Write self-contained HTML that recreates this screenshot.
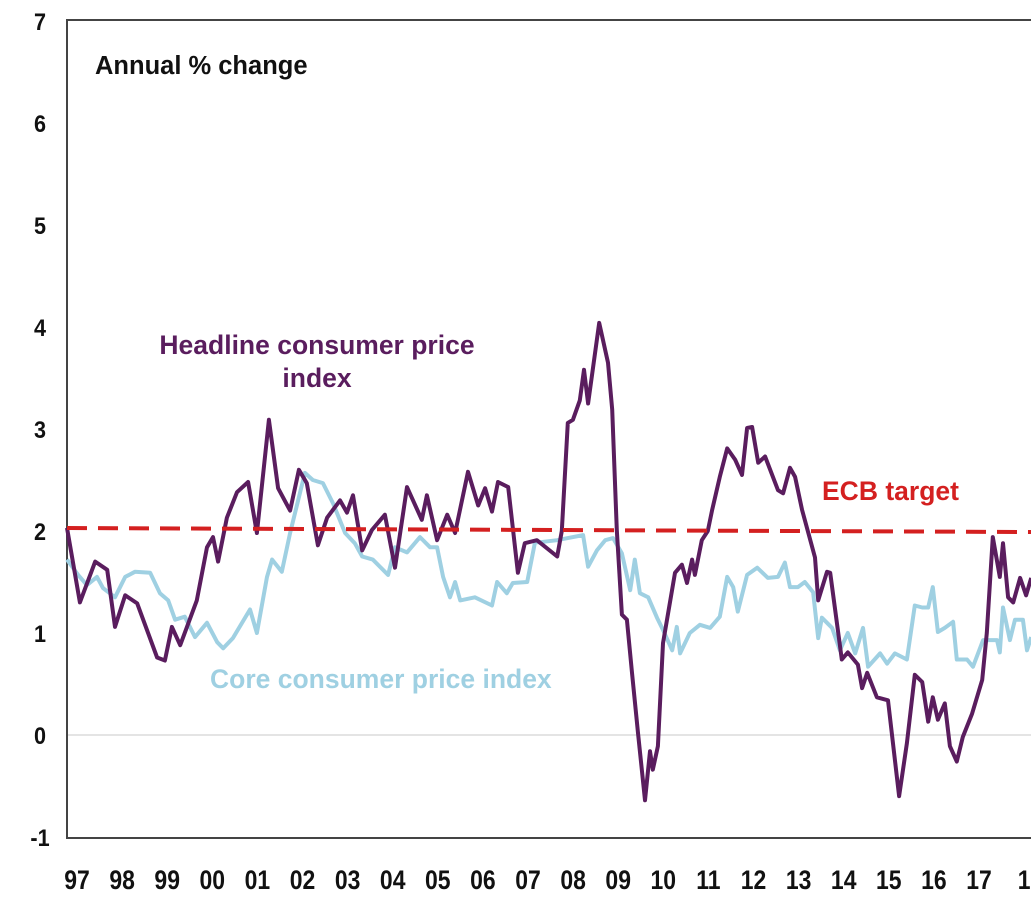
<!DOCTYPE html>
<html><head><meta charset="utf-8">
<style>
body{margin:0;background:#fff;}
svg text{font-family:"Liberation Sans",Arial,sans-serif;font-weight:bold;}
</style></head>
<body>
<svg id="chart" width="1031" height="902" viewBox="0 0 1031 902" xmlns="http://www.w3.org/2000/svg">
<g id="grid"></g>
<g id="axes"></g>
<g id="series"></g>
<text x="95" y="74" font-size="25.5" fill="#111">Annual % change</text>
<text x="317" y="354" font-size="26.5" fill="#5a1d5e" text-anchor="middle">Headline consumer price</text>
<text x="317" y="387" font-size="26.5" fill="#5a1d5e" text-anchor="middle">index</text>
<text x="210" y="688" font-size="26.5" fill="#9fd0e2">Core consumer price index</text>
<text x="822" y="500" font-size="26.5" fill="#d42020">ECB target</text>
</svg>
<script>
const yTicks = [-1,0,1,2,3,4,5,6,7];
const xLabels = ["97","98","99","00","01","02","03","04","05","06","07","08","09","10","11","12","13","14","15","16","17","1"];
const ecbTarget = 2.0;
const headlineT = [0,.28,.61,.87,1.04,1.26,1.52,1.95,2.12,2.27,2.45,2.81,3.03,3.16,3.27,3.46,3.68,3.92,4.11,4.37,4.57,4.83,5.02,5.19,5.43,5.63,5.91,6.06,6.19,6.39,6.60,6.88,7.10,7.36,7.68,7.79,8.01,8.23,8.40,8.68,8.90,9.05,9.20,9.33,9.55,9.76,9.91,10.17,10.61,10.71,10.84,10.95,11.10,11.19,11.28,11.52,11.71,11.80,11.90,12.01,12.12,12.23,12.36,12.51,12.62,12.68,12.79,12.90,13.16,13.31,13.42,13.53,13.59,13.74,13.87,13.96,14.13,14.29,14.46,14.61,14.72,14.83,14.96,15.11,15.39,15.50,15.65,15.76,15.91,16.19,16.26,16.45,16.52,16.77,16.90,17.12,17.21,17.32,17.53,17.77,18.01,18.18,18.35,18.51,18.64,18.74,18.85,19.00,19.11,19.26,19.39,19.59,19.81,19.91,20.04,20.19,20.26,20.37,20.48,20.63,20.76,20.87];
const headlineV = [2.03,1.3,1.7,1.62,1.06,1.37,1.29,0.76,0.73,1.06,0.88,1.32,1.84,1.94,1.70,2.13,2.38,2.48,1.98,3.09,2.42,2.2,2.6,2.47,1.86,2.13,2.3,2.18,2.35,1.81,2.01,2.16,1.64,2.43,2.11,2.35,1.91,2.16,1.98,2.58,2.25,2.42,2.19,2.48,2.43,1.59,1.88,1.91,1.75,2.0,3.06,3.09,3.28,3.58,3.25,4.04,3.65,3.19,2.01,1.18,1.13,0.61,0.02,-0.64,-0.16,-0.34,-0.11,0.9,1.59,1.67,1.49,1.72,1.57,1.91,2.0,2.2,2.53,2.81,2.70,2.55,3.01,3.02,2.67,2.73,2.4,2.37,2.62,2.53,2.21,1.74,1.32,1.6,1.59,0.74,0.81,0.69,0.46,0.61,0.37,0.34,-0.6,-0.08,0.59,0.52,0.13,0.37,0.15,0.31,-0.11,-0.26,-0.02,0.21,0.54,1.0,1.94,1.55,1.88,1.35,1.3,1.54,1.37,1.54];
const coreT = [0,.24,.43,.65,.78,1.04,1.26,1.47,1.80,2.01,2.19,2.34,2.55,2.77,3.03,3.25,3.38,3.59,3.96,4.11,4.33,4.44,4.65,4.83,5.15,5.32,5.54,5.76,6.02,6.23,6.39,6.62,6.95,7.10,7.36,7.64,7.86,8.01,8.14,8.29,8.40,8.51,8.83,9.20,9.31,9.52,9.65,9.96,10.13,10.24,10.61,10.84,11.17,11.28,11.47,11.65,11.82,12.01,12.19,12.29,12.40,12.58,12.77,12.90,13.10,13.20,13.27,13.48,13.70,13.92,14.13,14.29,14.42,14.52,14.72,14.94,15.17,15.39,15.54,15.65,15.82,15.97,16.15,16.26,16.34,16.56,16.73,16.90,17.06,17.23,17.34,17.60,17.75,17.92,18.18,18.35,18.51,18.64,18.74,18.85,19.00,19.18,19.26,19.48,19.61,19.83,20.13,20.19,20.26,20.41,20.52,20.69,20.78,20.87];
const coreV = [1.72,1.57,1.47,1.55,1.44,1.35,1.55,1.6,1.59,1.39,1.32,1.13,1.16,0.96,1.1,0.91,0.85,0.95,1.23,1.0,1.55,1.72,1.6,1.98,2.57,2.5,2.47,2.27,1.98,1.88,1.75,1.72,1.57,1.84,1.79,1.94,1.84,1.84,1.55,1.35,1.5,1.32,1.35,1.27,1.5,1.39,1.49,1.5,1.89,1.89,1.91,1.93,1.96,1.65,1.81,1.91,1.93,1.78,1.42,1.72,1.39,1.35,1.15,1.03,0.83,1.06,0.8,1.0,1.08,1.05,1.16,1.55,1.45,1.21,1.57,1.64,1.54,1.55,1.69,1.45,1.45,1.5,1.4,0.95,1.15,1.05,0.83,1.0,0.8,1.05,0.67,0.8,0.7,0.8,0.74,1.27,1.25,1.25,1.45,1.01,1.05,1.11,0.74,0.74,0.67,0.93,0.93,0.81,1.25,0.93,1.13,1.13,0.83,0.96];

const NS = "http://www.w3.org/2000/svg";
const X0 = 67, PXY = 46.2, Y0 = 735, PXV = 102;
function xScale(t){ return X0 + t*PXY; }
function yScale(v){ return Y0 - v*PXV; }
function mk(tag, attrs, parent){ const e=document.createElementNS(NS,tag); for(const k in attrs) e.setAttribute(k,attrs[k]); parent.appendChild(e); return e; }
const grid=document.getElementById('grid'), axes=document.getElementById('axes'), series=document.getElementById('series');

const zl = mk('line',{x1:X0,x2:1031,y1:yScale(0),y2:yScale(0),stroke:'#c8c8c8','stroke-width':1},grid);



const frame = mk('path',{d:`M1031 ${yScale(7)-1} H${X0} V${yScale(-1)+1} H1031`,fill:'none',stroke:'#444','stroke-width':2},axes);



yTicks.forEach(v=>{
  const t = mk('text',{transform:`translate(40,${yScale(v)+9}) scale(0.9,1)`,'font-size':24,fill:'#111','text-anchor':'middle'},axes);
  t.textContent = v;
  
  
});
xLabels.forEach((s,i)=>{
  const t = mk('text',{transform:`translate(${77+i*45.1},889) scale(0.85,1)`,'font-size':27,fill:'#111','text-anchor':'middle'},axes);
  t.textContent = s;
  
  
});

function pathFrom(ts,vs){ return ts.map((t,i)=>(i?'L':'M')+xScale(t).toFixed(1)+' '+yScale(vs[i]).toFixed(1)).join(' '); }
const core = mk('path',{d:pathFrom(coreT,coreV),fill:'none',stroke:'#9fd0e2','stroke-width':4,'stroke-linejoin':'round'},series);


const head = mk('path',{d:pathFrom(headlineT,headlineV),fill:'none',stroke:'#5a1d5e','stroke-width':4,'stroke-linejoin':'round'},series);


const ecb = mk('line',{x1:X0,x2:1031,y1:yScale(ecbTarget)-3,y2:yScale(ecbTarget)+1,stroke:'#d42020','stroke-width':4,'stroke-dasharray':'20 11'},series);


</script>
</body></html>
